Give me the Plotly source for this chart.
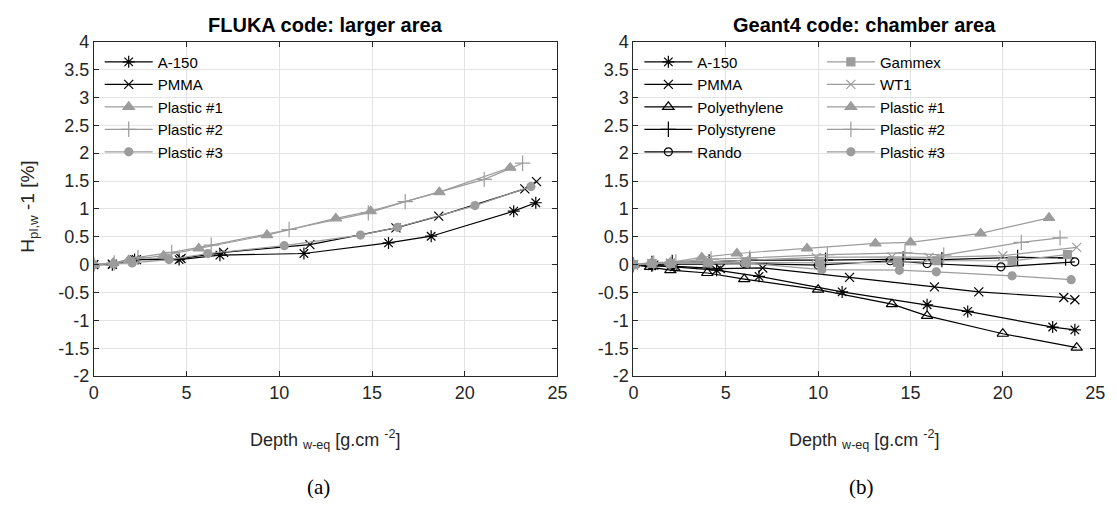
import plotly.graph_objects as go

# ---------------- data ----------------
# FLUKA (left panel)
fl_a150_x = [0, 1.0, 2.2, 4.6, 6.8, 11.33, 15.89, 18.19, 22.64, 23.83]
fl_a150_y = [0, 0.0, 0.09, 0.09, 0.17, 0.20, 0.39, 0.51, 0.96, 1.11]
fl_pmma_x = [0, 1.0, 2.3, 4.7, 7.0, 11.65, 16.29, 18.6, 23.24, 23.87]
fl_pmma_y = [0, 0.01, 0.09, 0.11, 0.22, 0.36, 0.66, 0.87, 1.36, 1.49]
fl_p1_x = [0, 1.05, 1.88, 3.76, 5.66, 9.34, 13.05, 14.93, 18.63, 22.45]
fl_p1_y = [0, 0.03, 0.08, 0.16, 0.29, 0.53, 0.83, 0.96, 1.30, 1.74]
fl_p2_x = [0, 1.1, 2.38, 4.2, 6.33, 10.53, 14.8, 16.79, 21.05, 23.12]
fl_p2_y = [0, 0.03, 0.13, 0.22, 0.35, 0.63, 0.93, 1.13, 1.53, 1.82]
fl_p3_x = [0, 1.08, 2.07, 4.06, 6.15, 10.27, 14.38, 16.38, 20.55, 23.57]
fl_p3_y = [0, 0.01, 0.03, 0.09, 0.20, 0.34, 0.53, 0.67, 1.06, 1.40]

# Geant4 (right panel)
g4_a150_x = [0, 1.0, 2.2, 4.5, 6.8, 11.3, 15.9, 18.1, 22.7, 23.9]
g4_a150_y = [0, -0.02, -0.04, -0.10, -0.21, -0.49, -0.72, -0.84, -1.12, -1.17]
g4_pmma_x = [0, 1.1, 2.3, 4.7, 7.0, 11.7, 16.3, 18.7, 23.3, 23.9]
g4_pmma_y = [0, -0.01, -0.03, -0.07, -0.06, -0.23, -0.40, -0.49, -0.59, -0.63]
g4_pe_x = [0, 0.9, 2.0, 4.0, 6.0, 10.0, 14.0, 15.9, 20.0, 24.0]
g4_pe_y = [0, -0.04, -0.10, -0.15, -0.26, -0.45, -0.71, -0.92, -1.24, -1.49]
g4_ps_x = [0, 1.0, 2.1, 4.1, 6.3, 10.4, 14.6, 16.7, 20.8, 23.4]
g4_ps_y = [0, 0.02, 0.04, 0.05, 0.08, 0.08, 0.10, 0.09, 0.13, 0.12]
g4_rando_x = [0, 1.0, 2.0, 4.0, 6.0, 10.0, 13.9, 15.9, 19.9, 23.9]
g4_rando_y = [0, 0.01, 0.01, 0.01, 0.02, -0.01, 0.07, 0.02, -0.04, 0.05]
g4_gammex_x = [0, 1.0, 2.0, 4.0, 6.1, 10.1, 14.3, 16.4, 20.5, 23.5]
g4_gammex_y = [0, 0.02, 0.02, 0.03, 0.04, 0.03, 0.04, 0.07, 0.07, 0.18]
g4_wt1_x = [0, 1.0, 2.0, 4.0, 6.0, 9.9, 14.0, 16.0, 20.0, 24.0]
g4_wt1_y = [0, 0.02, 0.03, 0.05, 0.08, 0.13, 0.14, 0.13, 0.16, 0.31]
g4_p1_x = [0, 1.0, 2.0, 3.7, 5.6, 9.4, 13.1, 15.0, 18.8, 22.5]
g4_p1_y = [0, 0.04, 0.04, 0.13, 0.20, 0.29, 0.38, 0.40, 0.56, 0.84]
g4_p2_x = [0, 1.1, 2.3, 4.2, 6.3, 10.5, 14.7, 16.8, 21.0, 23.1]
g4_p2_y = [0, 0.03, 0.05, 0.10, 0.12, 0.18, 0.21, 0.17, 0.40, 0.48]
g4_p3_x = [0, 1.0, 2.0, 4.1, 6.1, 10.2, 14.4, 16.4, 20.5, 23.7]
g4_p3_y = [0, 0.02, 0.02, 0.03, 0.03, -0.09, -0.10, -0.13, -0.20, -0.27]

x_ticks = [0, 5, 10, 15, 20, 25]
x_ticklabels = ["0", "5", "10", "15", "20", "25"]
y_ticks = [-2, -1.5, -1, -0.5, 0, 0.5, 1, 1.5, 2, 2.5, 3, 3.5, 4]
y_ticklabels = ["-2", "-1.5", "-1", "-0.5", "0", "0.5", "1", "1.5", "2", "2.5", "3", "3.5", "4"]

title_left = "FLUKA code: larger area"
title_right = "Geant4 code: chamber area"
xlabel = "Depth <sub>w-eq</sub> [g.cm <sup>-2</sup>]"
ylabel = "H<sub>pl,w</sub> -1 [%]"

# ---------------- style ----------------
W, H = 1117, 511
BLACK = "#000000"
GRAY = "#9c9c9c"
AX = "#262626"
GRID = "#e3e3e3"
FONT = "Liberation Sans"

def px2x(p):
    return p / W

def px2y(p):
    return 1 - p / H

fig = go.Figure()

def add(x, y, name, color, symbol, size, xa, ya, legend):
    marker = dict(symbol=symbol, size=size, color=color,
                  line=dict(color=color, width=1.2))
    fig.add_trace(go.Scatter(x=x, y=y, name=name, mode="lines+markers",
                             line=dict(color=color, width=1.2),
                             marker=marker, xaxis=xa, yaxis=ya, legend=legend))

# left
add(fl_a150_x, fl_a150_y, "A-150", BLACK, "asterisk-open", 10, "x", "y", "legend")
add(fl_pmma_x, fl_pmma_y, "PMMA", BLACK, "x-thin-open", 9, "x", "y", "legend")
add(fl_p1_x, fl_p1_y, "Plastic #1", GRAY, "triangle-up", 10, "x", "y", "legend")
add(fl_p2_x, fl_p2_y, "Plastic #2", GRAY, "cross-thin-open", 11, "x", "y", "legend")
add(fl_p3_x, fl_p3_y, "Plastic #3", GRAY, "circle", 8, "x", "y", "legend")

# right
add(g4_a150_x, g4_a150_y, "A-150", BLACK, "asterisk-open", 10, "x2", "y2", "legend2")
add(g4_pmma_x, g4_pmma_y, "PMMA", BLACK, "x-thin-open", 9, "x2", "y2", "legend2")
add(g4_pe_x, g4_pe_y, "Polyethylene", BLACK, "triangle-up-open", 10, "x2", "y2", "legend2")
add(g4_ps_x, g4_ps_y, "Polystyrene", BLACK, "cross-thin-open", 11, "x2", "y2", "legend2")
add(g4_rando_x, g4_rando_y, "Rando", BLACK, "circle-open", 8, "x2", "y2", "legend2")
add(g4_gammex_x, g4_gammex_y, "Gammex", GRAY, "square", 8, "x2", "y2", "legend3")
add(g4_wt1_x, g4_wt1_y, "WT1", GRAY, "x-thin-open", 9, "x2", "y2", "legend3")
add(g4_p1_x, g4_p1_y, "Plastic #1", GRAY, "triangle-up", 10, "x2", "y2", "legend3")
add(g4_p2_x, g4_p2_y, "Plastic #2", GRAY, "cross-thin-open", 11, "x2", "y2", "legend3")
add(g4_p3_x, g4_p3_y, "Plastic #3", GRAY, "circle", 8, "x2", "y2", "legend3")

xdomL = [px2x(90), px2x(560)]
xdomR = [px2x(637), px2x(1105)]
ydom = [px2y(381), px2y(33)]

axis_common = dict(showgrid=True, gridcolor=GRID, gridwidth=1, zeroline=False,
                   showline=True, linecolor=AX, linewidth=1, mirror="ticks",
                   ticks="inside", ticklen=5, tickcolor=AX,
                   tickfont=dict(family=FONT, size=18, color=AX))

legend_common = dict(bgcolor="rgba(0,0,0,0)", borderwidth=0,
                     font=dict(family=FONT, size=15, color="#000000"),
                     yanchor="top", xanchor="left", tracegroupgap=0,
                     itemwidth=48)

fig.update_layout(
    width=W, height=H,
    margin=dict(l=0, r=0, t=0, b=0),
    paper_bgcolor="white", plot_bgcolor="white",
    xaxis=dict(domain=xdomL, range=[0, 25], tickvals=x_ticks, ticktext=x_ticklabels,
               anchor="y", **axis_common),
    yaxis=dict(domain=ydom, range=[-2, 4], tickvals=y_ticks, ticktext=y_ticklabels,
               anchor="x", **axis_common),
    xaxis2=dict(domain=xdomR, range=[0, 25], tickvals=x_ticks, ticktext=x_ticklabels,
                anchor="y2", **axis_common),
    yaxis2=dict(domain=ydom, range=[-2, 4], tickvals=y_ticks, ticktext=y_ticklabels,
                anchor="x2", **axis_common),
    legend=dict(x=px2x(96), y=px2y(37), **legend_common),
    legend2=dict(x=px2x(643), y=px2y(37), **legend_common),
    legend3=dict(x=px2x(828), y=px2y(37), **legend_common),
    showlegend=True,
)

ann = []
ann.append(dict(text="<b>" + title_left + "</b>", x=px2x(325), y=px2y(16), xref="paper", yref="paper",
                showarrow=False, xanchor="center", yanchor="middle",
                font=dict(family=FONT, size=20, color="#000000")))
ann.append(dict(text="<b>" + title_right + "</b>", x=px2x(871), y=px2y(16), xref="paper", yref="paper",
                showarrow=False, xanchor="center", yanchor="middle",
                font=dict(family=FONT, size=20, color="#000000")))
for cx in (325, 871):
    ann.append(dict(text=xlabel, x=px2x(cx), y=px2y(447), xref="paper", yref="paper",
                    showarrow=False, xanchor="center", yanchor="middle",
                    font=dict(family=FONT, size=18, color=AX)))
ann.append(dict(text=ylabel, x=px2x(24), y=px2y(205), xref="paper", yref="paper",
                showarrow=False, xanchor="center", yanchor="middle", textangle=-90,
                font=dict(family=FONT, size=19, color=AX)))
ann.append(dict(text="(a)", x=px2x(318), y=px2y(496), xref="paper", yref="paper",
                showarrow=False, xanchor="center", yanchor="middle",
                font=dict(family="Liberation Serif", size=21, color="#000000")))
ann.append(dict(text="(b)", x=px2x(868), y=px2y(496), xref="paper", yref="paper",
                showarrow=False, xanchor="center", yanchor="middle",
                font=dict(family="Liberation Serif", size=21, color="#000000")))
fig.update_layout(annotations=ann)

fig.write_html("out.html")
